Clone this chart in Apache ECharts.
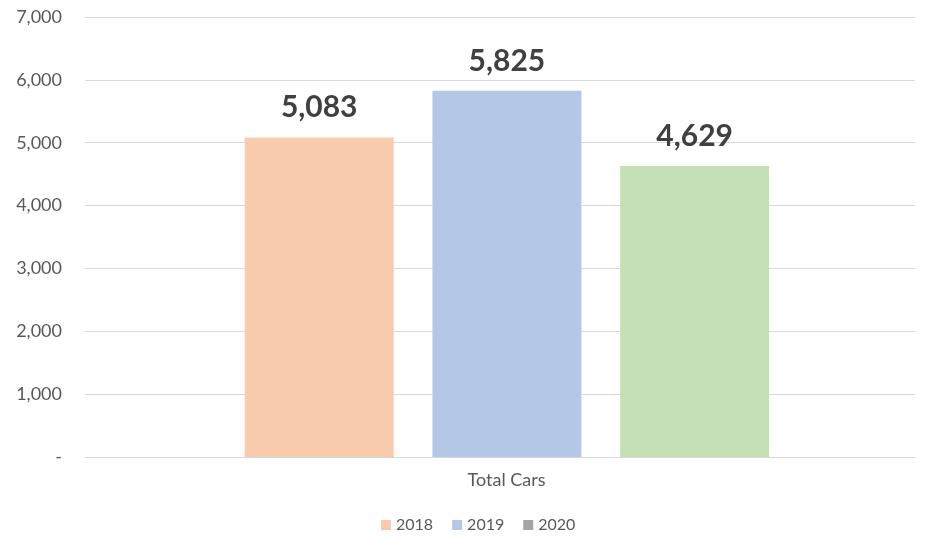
<!DOCTYPE html>
<html><head><meta charset="utf-8">
<script src="https://cdn.jsdelivr.net/npm/echarts@6/dist/echarts.min.js"></script>
<style>html,body{margin:0;padding:0;background:#fff}#c{width:933px;height:538px}</style>
</head><body><div id="c"></div>
<script>
const categories = ['Total Cars'];
const seriesNames = ['2018', '2019', '2020'];
const values2018 = [5083];
const values2019 = [5825];
const values2020 = [4629];
const yTicks = [0, 1000, 2000, 3000, 4000, 5000, 6000, 7000];

const legendColors = ['#F8CBAD', '#B4C7E7', '#A5A5A5'];
const barColors = ['#F8CBAD', '#B4C7E7', '#C5E0B4'];
const font = 'Lato, "Open Sans", sans-serif';
const fmt = v => v === 0 ? '-' : v.toLocaleString('en-US');

const allValues = [values2018, values2019, values2020];
const chart = echarts.init(document.getElementById('c'));

// invisible spacer series to reproduce the slight right offset of the bar group
const spacer = {
  name: '_spacer', type: 'bar', barWidth: 11, barGap: '26%', silent: true,
  itemStyle: { color: 'rgba(0,0,0,0)' },
  data: categories.map(() => '-')
};

chart.setOption({
  animation: false,
  textStyle: { fontFamily: font },
  grid: { left: 85, right: 18, top: 17, bottom: 81, containLabel: false },
  legend: {
    bottom: 0, left: 376, itemWidth: 10, itemHeight: 10, itemGap: 19,
    icon: 'rect',
    textStyle: { color: '#595959', fontSize: 16, fontFamily: font },
    data: seriesNames
  },
  xAxis: {
    type: 'category', data: categories,
    axisLine: { lineStyle: { color: '#D9D9D9' } },
    axisTick: { show: false },
    axisLabel: { color: '#595959', fontSize: 18, margin: 14, fontFamily: font, padding: [0, 0, 0, 13] }
  },
  yAxis: {
    type: 'value', min: yTicks[0], max: yTicks[yTicks.length - 1], interval: 1000,
    axisLine: { show: false }, axisTick: { show: false },
    splitLine: { lineStyle: { color: '#D9D9D9' } },
    axisLabel: { color: '#595959', fontSize: 18, margin: 23, formatter: fmt, fontFamily: font }
  },
  series: [spacer].concat(seriesNames.map((name, i) => ({
    name, type: 'bar', barWidth: 149, barGap: '26%',
    itemStyle: { color: legendColors[i] },
    data: allValues[i].map(v => ({ value: v, itemStyle: { color: barColors[i] } })),
    label: {
      show: true, position: 'top', distance: 15,
      color: '#404040', fontSize: 30, fontWeight: 'bold', fontFamily: font,
      formatter: p => fmt(p.value)
    }
  })))
});
</script></body></html>
